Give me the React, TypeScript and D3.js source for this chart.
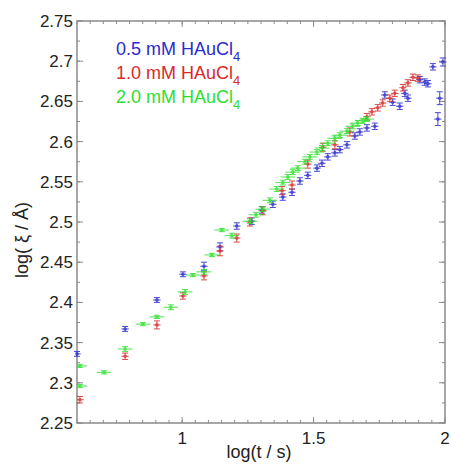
import React from "react";
import * as d3 from "d3";

const xTicks = [1, 1.5, 2];
const yTicks = [2.25, 2.3, 2.35, 2.4, 2.45, 2.5, 2.55, 2.6, 2.65, 2.7, 2.75];

// [log t, log xi, yErr]
const blue: [number, number, number][] = [
  [0.600, 2.336, 0.003], [0.783, 2.367, 0.003], [0.904, 2.403, 0.003], [1.003, 2.435, 0.003],
  [1.083, 2.445, 0.005], [1.144, 2.469, 0.005], [1.208, 2.495, 0.004], [1.265, 2.501, 0.004],
  [1.303, 2.515, 0.004], [1.345, 2.522, 0.004], [1.383, 2.531, 0.004], [1.418, 2.537, 0.004],
  [1.448, 2.551, 0.004], [1.478, 2.558, 0.004], [1.513, 2.567, 0.004], [1.532, 2.573, 0.004],
  [1.554, 2.581, 0.004], [1.581, 2.586, 0.004], [1.600, 2.590, 0.004], [1.627, 2.596, 0.004],
  [1.657, 2.607, 0.004], [1.676, 2.612, 0.004], [1.703, 2.617, 0.004], [1.733, 2.619, 0.004],
  [1.771, 2.658, 0.004], [1.801, 2.649, 0.004], [1.828, 2.644, 0.004], [1.847, 2.660, 0.004],
  [1.859, 2.654, 0.004], [1.904, 2.677, 0.004], [1.923, 2.674, 0.004], [1.935, 2.672, 0.004],
  [1.954, 2.693, 0.004], [1.980, 2.654, 0.008], [1.973, 2.628, 0.008], [1.992, 2.699, 0.005],
];

const red: [number, number, number][] = [
  [0.611, 2.279, 0.004], [0.783, 2.333, 0.004], [0.904, 2.372, 0.005], [1.003, 2.408, 0.004],
  [1.083, 2.433, 0.005], [1.144, 2.464, 0.006], [1.208, 2.480, 0.005], [1.258, 2.500, 0.005],
  [1.307, 2.514, 0.005], [1.380, 2.539, 0.005], [1.418, 2.546, 0.005], [1.478, 2.572, 0.005],
  [1.535, 2.593, 0.005], [1.581, 2.596, 0.005], [1.638, 2.612, 0.005], [1.703, 2.631, 0.004],
  [1.722, 2.637, 0.004], [1.744, 2.642, 0.004], [1.763, 2.648, 0.004], [1.790, 2.654, 0.004],
  [1.809, 2.660, 0.004], [1.840, 2.667, 0.004], [1.859, 2.673, 0.004], [1.878, 2.680, 0.004],
  [1.897, 2.679, 0.004],
];

const green: [number, number, number][] = [
  [0.611, 2.321, 0.002], [0.611, 2.296, 0.002], [0.703, 2.313, 0.002], [0.783, 2.342, 0.003],
  [0.851, 2.373, 0.002], [0.904, 2.382, 0.002], [0.957, 2.394, 0.003], [1.011, 2.413, 0.003],
  [1.041, 2.434, 0.002], [1.083, 2.438, 0.003], [1.113, 2.459, 0.002], [1.151, 2.490, 0.002],
  [1.189, 2.483, 0.003], [1.258, 2.501, 0.003], [1.281, 2.509, 0.003], [1.307, 2.516, 0.003],
  [1.334, 2.527, 0.003], [1.360, 2.541, 0.003], [1.383, 2.549, 0.003], [1.402, 2.556, 0.003],
  [1.421, 2.562, 0.003], [1.440, 2.567, 0.003], [1.467, 2.575, 0.003], [1.486, 2.581, 0.003],
  [1.513, 2.587, 0.003], [1.532, 2.592, 0.003], [1.554, 2.598, 0.003], [1.581, 2.604, 0.003],
  [1.600, 2.608, 0.003], [1.627, 2.613, 0.003], [1.649, 2.619, 0.003], [1.668, 2.623, 0.003],
  [1.687, 2.626, 0.003], [1.703, 2.628, 0.003],
];

const seriesNames = ["0.5 mM HAuCl", "1.0 mM HAuCl", "2.0 mM HAuCl"];
const seriesColors = ["#2a2ad0", "#d82a2a", "#2ee02e"];
const seriesXErr = [0.014, 0.014, 0.028];

const W = 451, H = 466;
const L = 77, R = 445, T = 21, B = 423;

export default function App() {
  const x = d3.scaleLinear().domain([0.6, 2.0]).range([L, R]);
  const y = d3.scaleLinear().domain([2.25, 2.75]).range([B, T]);
  const xMinor = d3.range(0.6, 2.0001, 0.05);
  const yMinor = d3.range(2.25, 2.7501, 0.025);
  const axisColor = "#8a8a8a";
  const font = "Arial, 'Liberation Sans', sans-serif";
  const all = [blue, red, green];

  return (
    <svg width={W} height={H} style={{ position: "absolute", left: 0, top: 0, background: "#fff" }}>
      <rect x={0} y={0} width={W} height={H} fill="#fff" />
      {xMinor.map((v, i) => (
        <g key={"xm" + i} stroke={axisColor} strokeWidth={1}>
          <line x1={x(v)} x2={x(v)} y1={B} y2={B - 3} />
          <line x1={x(v)} x2={x(v)} y1={T} y2={T + 3} />
        </g>
      ))}
      {yMinor.map((v, i) => (
        <g key={"ym" + i} stroke={axisColor} strokeWidth={1}>
          <line x1={L} x2={L + 3} y1={y(v)} y2={y(v)} />
          <line x1={R} x2={R - 3} y1={y(v)} y2={y(v)} />
        </g>
      ))}
      {xTicks.map((v) => (
        <g key={"xt" + v}>
          <line x1={x(v)} x2={x(v)} y1={B} y2={B - 6} stroke={axisColor} />
          <line x1={x(v)} x2={x(v)} y1={T} y2={T + 6} stroke={axisColor} />
          <text x={x(v)} y={B + 21} fontSize={17} fontFamily={font} fill="#222" textAnchor="middle">
            {String(v)}
          </text>
        </g>
      ))}
      {yTicks.map((v) => (
        <g key={"yt" + v}>
          <line x1={L} x2={L + 6} y1={y(v)} y2={y(v)} stroke={axisColor} />
          <line x1={R} x2={R - 6} y1={y(v)} y2={y(v)} stroke={axisColor} />
          <text x={L - 4} y={y(v) + 6} fontSize={17} fontFamily={font} fill="#222" textAnchor="end">
            {v.toFixed(2).replace(/0$/, "")}
          </text>
        </g>
      ))}
      <rect x={L} y={T} width={R - L} height={B - T} fill="none" stroke={axisColor} strokeWidth={1.5} />

      {all.map((data, si) => (
        <g key={"s" + si} stroke={seriesColors[si]} fill={seriesColors[si]} strokeWidth={1}>
          {data.map(([xv, yv, ey], i) => {
            const cx = x(xv), cy = y(yv);
            const x0 = x(Math.max(0.6, xv - seriesXErr[si])), x1 = x(xv + seriesXErr[si]);
            const y0 = y(yv - ey), y1 = y(yv + ey);
            return (
              <g key={i} opacity={0.85}>
                <line x1={x0} x2={x1} y1={cy} y2={cy} />
                <line x1={cx} x2={cx} y1={y0} y2={y1} />
                <line x1={cx - 3} x2={cx + 3} y1={y0} y2={y0} />
                <line x1={cx - 3} x2={cx + 3} y1={y1} y2={y1} />
                <circle cx={cx} cy={cy} r={1.8} stroke="none" />
              </g>
            );
          })}
        </g>
      ))}

      {seriesNames.map((n, i) => (
        <text key={"lg" + i} x={116} y={55 + i * 24} fontSize={18} fontFamily={font} fill={seriesColors[i]}>
          {n}
          <tspan dy={6} fontSize={13}>4</tspan>
        </text>
      ))}

      <text x={259} y={458} fontSize={18} fontFamily={font} fill="#222" textAnchor="middle">
        log(t / s)
      </text>
      <text
        transform={`translate(28, 240) rotate(-90)`}
        fontSize={18}
        fontFamily={font}
        fill="#222"
        textAnchor="middle"
      >
        log( ξ / Å)
      </text>
    </svg>
  );
}
